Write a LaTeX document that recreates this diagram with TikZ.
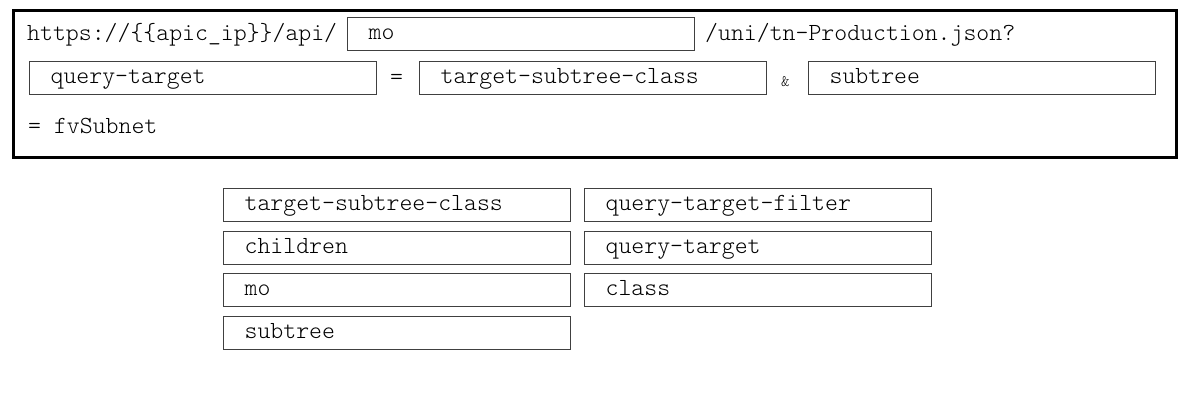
\documentclass[tikz,border=0pt]{standalone}
\usepackage{fontspec}
\setmonofont{Latin Modern Mono Light}
\newcommand{\fldfont}{\ttfamily\fontsize{24.6}{26}\selectfont}
\begin{document}
\begin{tikzpicture}[x=1pt,y=-1pt,
  txt/.style={font=\fldfont, inner sep=0pt, anchor=base west},
  fld/.style={draw=black!75, line width=1.2pt, anchor=north west, inner xsep=21pt, inner ysep=0pt,
     minimum height=33pt, text height=14pt, text depth=4pt,
     font=\fldfont, align=left, text width=#1},
  fld/.default=305pt,
  outer/.style={draw=black, line width=3pt}]
\useasboundingbox (0,0) rectangle (1189,407);
\node[outer, anchor=north west, minimum width=1163pt, minimum height=147pt, inner sep=0pt] (frame) at (12,9) {};
% row 1
\node[txt] (url) at (27,40) {https://\{\{apic\_ip\}\}/api/};
\node[fld] (mo) at (347,17) {mo};
\node[txt] (path) at (705,40) {/uni/tn-Production.json?};
% row 2
\node[fld] (qt) at (29,61) {query-target};
\node[txt] (eq1) at (390,84) {=};
\node[fld] (tsc) at (419,61) {target-subtree-class};
\node[txt] (amp) at (781,86) {\fontsize{16}{18}\selectfont\&};
\node[fld] (st) at (808,61) {subtree};
% row 3
\node[txt] (fv) at (28,133) {= fvSubnet};
% answer bank
\node[fld] (a1) at (223,188) {target-subtree-class};
\node[fld] (a2) at (223,231) {children};
\node[fld] (a3) at (223,273) {mo};
\node[fld] (a4) at (223,316) {subtree};
\node[fld] (b1) at (584,188) {query-target-filter};
\node[fld] (b2) at (584,231) {query-target};
\node[fld] (b3) at (584,273) {class};
\end{tikzpicture}
\end{document}
